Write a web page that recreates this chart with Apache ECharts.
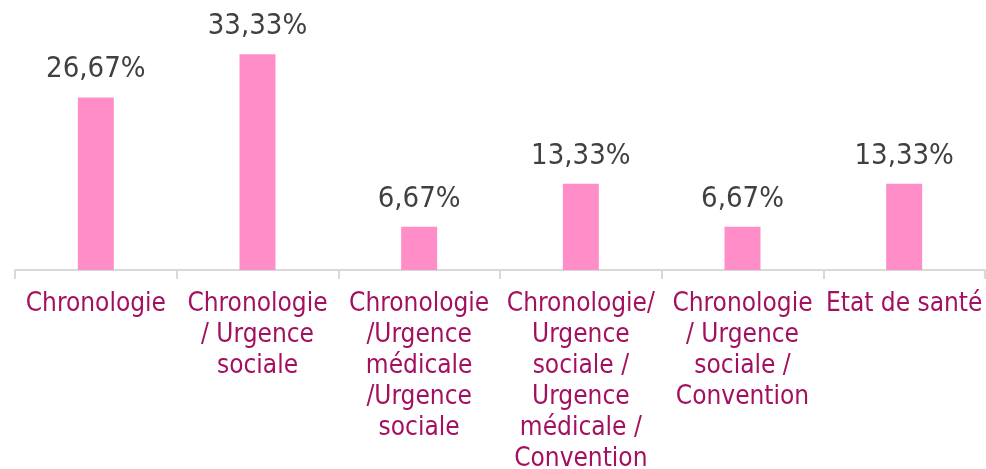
<!DOCTYPE html>
<html>
<head>
<meta charset="utf-8">
<script src="https://cdn.jsdelivr.net/npm/echarts@6/dist/echarts.min.js"></script>
<style>
    html, body { margin: 0; padding: 0; background: #fff; }
    #chart { width: 986px; height: 469px; }
</style>
</head>
<body>
<div id="chart"></div>
<script>
/*数据*/
var categories = [
    'Chronologie',
    'Chronologie\n/ Urgence\nsociale',
    'Chronologie\n/Urgence\nmédicale\n/Urgence\nsociale',
    'Chronologie/\nUrgence\nsociale /\nUrgence\nmédicale /\nConvention',
    'Chronologie\n/ Urgence\nsociale /\nConvention',
    'Etat de santé'
];
var values = [26.67, 33.33, 6.67, 13.33, 6.67, 13.33];

var barCharts = function () {
    var box = document.getElementById('chart');
    var myChart = echarts.init(box);
    var options = {
        animation: false,
        grid: {
            left: 15,
            right: 1,
            top: 43.5,
            bottom: 199,
            containLabel: false,
            outerBoundsMode: 'none'
        },
        xAxis: [
            {
                type: 'category',
                data: categories,
                axisLine: {
                    lineStyle: { color: '#D9D9D9', width: 2 }
                },
                axisTick: {
                    show: true,
                    length: 9,
                    lineStyle: { color: '#D9D9D9', width: 2 }
                },
                axisLabel: {
                    interval: 0,
                    margin: 19,
                    color: '#A3105F',
                    fontFamily: 'DejaVu Sans Condensed',
                    fontSize: 26,
                    lineHeight: 31,
                    align: 'center'
                }
            }
        ],
        yAxis: [
            {
                type: 'value',
                min: 0,
                max: 35,
                show: false,
                splitLine: { show: false }
            }
        ],
        series: [
            {
                type: 'bar',
                barWidth: 36,
                data: values,
                itemStyle: { color: '#FF8DC8' },
                label: {
                    show: true,
                    position: 'top',
                    distance: 13,
                    color: '#404040',
                    fontFamily: 'DejaVu Sans Condensed',
                    fontSize: 29,
                    formatter: function (p) {
                        return p.value.toFixed(2).replace('.', ',') + '%';
                    }
                }
            }
        ]
    };
    myChart.setOption(options);
};
barCharts();
</script>
</body>
</html>
